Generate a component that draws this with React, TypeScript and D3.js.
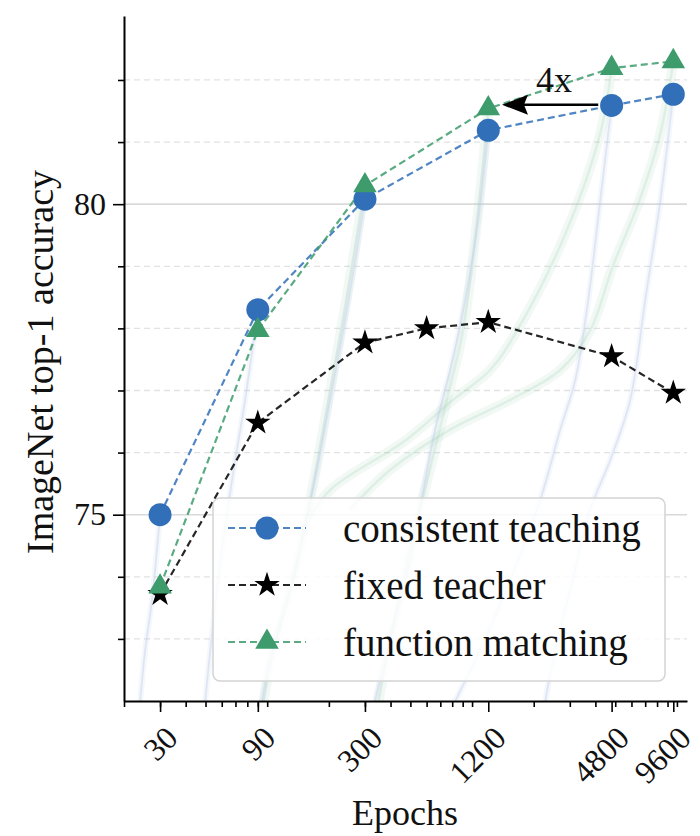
import * as d3 from "d3";
import React, { useEffect, useRef } from "react";

// final accuracy per training length
const epochs = [30, 90, 300, 1200, 4800, 9600];
const consistentTeaching = [75.0, 78.3, 80.08, 81.19, 81.59, 81.77];
const functionMatching = [73.84, 77.97, 80.3, 81.54, 82.19, 82.3];
const fixedEpochs = [30, 90, 300, 600, 1200, 4800, 9600];
const fixedTeacher = [73.72, 76.48, 77.77, 78.0, 78.1, 77.55, 76.96];

const xTicks = [30, 90, 300, 1200, 4800, 9600];
const yMajor = [75, 80];
const yMinor = [73, 74, 76, 77, 78, 79, 81, 82];

// faint training curves (epoch, accuracy)
const blueRuns: [number, number][][] = [
  [[30, 75.0], [27.4, 73.63], [25.4, 72.83], [24, 72.0]],
  [[90, 78.3], [78, 76.85], [67.4, 75.56], [57.6, 73.95], [49.8, 72.0]],
  [[300, 80.08], [269, 79.1], [235, 77.97], [203, 76.85], [171, 75.56], [137, 74.12], [103, 72.67], [94.4, 72.0]],
  [[1200, 81.19], [1072, 79.74], [926, 78.46], [782, 77.33], [676, 76.53], [591, 75.56], [499, 74.28], [398, 72.99], [336, 72.0]],
  [[4800, 81.59], [4224, 80.06], [3692, 78.46], [3190, 77.17], [2694, 76.37], [2152, 75.24], [1536, 73.95], [1097, 72.83], [828, 72.0]],
  [[9600, 81.77], [8299, 80.06], [7006, 78.46], [5917, 76.85], [4728, 75.88], [3773, 75.08], [3015, 73.79], [2546, 72.83], [2277, 72.0]],
];
const greenRuns: [number, number][][] = [
  [[300, 80.3], [265, 79.2], [230, 78.0], [198, 76.8], [168, 75.5], [135, 74.0], [104, 72.6], [96, 72.0]],
  [[1200, 81.54], [1072, 79.9], [900, 77.93], [760, 76.9], [620, 75.7], [500, 74.5], [410, 73.2], [350, 72.0]],
  [[4800, 82.2], [4224, 81.14], [2860, 79.53], [1635, 77.93], [1225, 77.33], [808, 76.85], [475, 76.2], [203, 75.4], [161, 74.92]],
  [[9600, 82.3], [8299, 81.14], [6560, 80.06], [4863, 79.0], [3773, 77.97], [2694, 77.33], [1536, 76.85], [782, 76.37], [398, 75.72], [253, 75.08]],
];

const BLUE = "#3170b8";
const GREEN = "#3d9b6c";
const FONT = "Liberation Serif, Times New Roman, serif";

function drawChart(node: SVGSVGElement) {
  const svg = d3.select(node);
  svg.selectAll("*").remove();

  const x = d3.scaleLog().domain([20, 11200]).range([124, 687]);
  const y = d3.scaleLinear().domain([72, 83.03]).range([701, 16]);
  const [x0, x1] = x.range();

  svg.append("defs").append("clipPath").attr("id", "plot")
    .append("rect").attr("x", x0).attr("y", 16).attr("width", x1 - x0).attr("height", 685);

  // grid
  svg.append("g").selectAll("line").data(yMinor).join("line")
    .attr("x1", x0).attr("x2", x1).attr("y1", d => y(d)).attr("y2", d => y(d))
    .attr("stroke", "#e2e2e2").attr("stroke-width", 1.3).attr("stroke-dasharray", "6,4");
  svg.append("g").selectAll("line").data(yMajor).join("line")
    .attr("x1", x0).attr("x2", x1).attr("y1", d => y(d)).attr("y2", d => y(d))
    .attr("stroke", "#dadada").attr("stroke-width", 1.6);

  const line = d3.line<[number, number]>().x(d => x(d[0])).y(d => y(d[1])).curve(d3.curveCatmullRom);

  const bg = svg.append("g").attr("clip-path", "url(#plot)");
  for (const run of greenRuns) {
    bg.append("path").attr("d", line(run)).attr("fill", "none")
      .attr("stroke", "#a6d4ba").attr("stroke-width", 10).attr("stroke-opacity", 0.14);
    bg.append("path").attr("d", line(run)).attr("fill", "none")
      .attr("stroke", "#94cbab").attr("stroke-width", 2.5).attr("stroke-opacity", 0.22);
  }
  for (const run of blueRuns) {
    bg.append("path").attr("d", line(run)).attr("fill", "none")
      .attr("stroke", "#bccfe8").attr("stroke-width", 6).attr("stroke-opacity", 0.16);
    bg.append("path").attr("d", line(run)).attr("fill", "none")
      .attr("stroke", "#c0cbe8").attr("stroke-width", 1.8).attr("stroke-opacity", 0.4);
  }

  // axes
  const yAxis = svg.append("g").attr("transform", `translate(${x0},0)`)
    .call(d3.axisLeft(y).tickValues(yMajor).tickSize(11).tickPadding(7).tickSizeOuter(0).tickFormat(d3.format("d")));
  svg.append("g").attr("transform", `translate(${x0},0)`)
    .call(d3.axisLeft(y).tickValues(yMinor).tickSize(6).tickFormat(() => "").tickSizeOuter(0))
    .call(g => g.select(".domain").remove());
  yAxis.selectAll("text").attr("font-family", FONT).attr("font-size", 32).attr("fill", "#111");

  const minorX: number[] = [];
  for (const p of [10, 100, 1000]) for (let k = 2; k <= 10; k++) minorX.push(k * p);
  svg.append("g").attr("transform", "translate(0,701)")
    .call(d3.axisBottom(x).tickValues(minorX.filter(v => v <= 11200)).tickSize(6).tickFormat(() => "").tickSizeOuter(0))
    .call(g => g.select(".domain").remove());
  const xAxis = svg.append("g").attr("transform", "translate(0,701)")
    .call(d3.axisBottom(x).tickValues(xTicks).tickSize(11).tickSizeOuter(0).tickFormat(d3.format("d")));
  xAxis.selectAll("text")
    .attr("y", null).attr("dy", "0.35em")
    .attr("transform", "translate(11,31) rotate(-45)")
    .attr("text-anchor", "end")
    .attr("font-family", FONT).attr("font-size", 32).attr("fill", "#111");

  for (const ax of [yAxis, xAxis]) {
    ax.select(".domain").attr("stroke", "#000").attr("stroke-width", 2);
  }
  svg.selectAll(".tick line").attr("stroke", "#000").attr("stroke-width", 1.6);

  // series
  const series = [
    { xs: epochs, ys: consistentTeaching, color: BLUE, marker: "circle" },
    { xs: fixedEpochs, ys: fixedTeacher, color: "#000", marker: "star" },
    { xs: epochs, ys: functionMatching, color: GREEN, marker: "triangle" },
  ];
  const symbolPath = (m: string) =>
    m === "star" ? d3.symbol(d3.symbolStar, 200)() : d3.symbol(d3.symbolTriangle, 240)();

  const drawMarker = (g: any, m: string, color: string, cx: number, cy: number) => {
    if (m === "circle") g.append("circle").attr("cx", cx).attr("cy", cy).attr("r", 11.5).attr("fill", color);
    else g.append("path").attr("d", symbolPath(m)).attr("transform", `translate(${cx},${cy})`).attr("fill", color);
  };

  const linesG = svg.append("g");
  const markG = svg.append("g");
  for (const s of series) {
    const pts = s.xs.map((e, i) => [e, s.ys[i]] as [number, number]);
    linesG.append("path")
      .attr("d", d3.line<[number, number]>().x(d => x(d[0])).y(d => y(d[1]))(pts))
      .attr("fill", "none").attr("stroke", s.color).attr("stroke-width", 2.2)
      .attr("stroke-dasharray", "7,4").attr("stroke-opacity", 0.85);
    for (const p of pts) drawMarker(markG, s.marker, s.color, x(p[0]), y(p[1]));
  }

  // 4x arrow
  const ay = y(81.6);
  const tip = x(1400);
  svg.append("line").attr("x1", x(4130)).attr("x2", tip + 20).attr("y1", ay).attr("y2", ay)
    .attr("stroke", "#000").attr("stroke-width", 2.6);
  svg.append("path").attr("d", `M${tip},${ay}L${tip + 26},${ay - 10}L${tip + 22},${ay}L${tip + 26},${ay + 10}Z`)
    .attr("fill", "#000");
  svg.append("text").attr("x", (x(4130) + tip) / 2 + 4).attr("y", 92)
    .attr("text-anchor", "middle").attr("font-family", FONT).attr("font-size", 36).attr("fill", "#111").text("4x");

  // labels
  svg.append("text").attr("transform", "translate(53,362) rotate(-90)")
    .attr("text-anchor", "middle").attr("font-family", FONT).attr("font-size", 38).attr("fill", "#111")
    .text("ImageNet top-1 accuracy");
  svg.append("text").attr("x", 405).attr("y", 825)
    .attr("text-anchor", "middle").attr("font-family", FONT).attr("font-size", 36).attr("fill", "#111")
    .text("Epochs");

  // legend
  const lg = svg.append("g");
  lg.append("rect").attr("x", 213).attr("y", 498).attr("width", 452).attr("height", 183).attr("rx", 7)
    .attr("fill", "#fff").attr("fill-opacity", 0.82).attr("stroke", "#d4d4d4").attr("stroke-width", 1.5);
  const labels = ["consistent teaching", "fixed teacher", "function matching"];
  series.forEach((s, i) => {
    const ry = 528 + i * 57;
    lg.append("line").attr("x1", 228).attr("x2", 306).attr("y1", ry).attr("y2", ry)
      .attr("stroke", s.color).attr("stroke-width", 2.2).attr("stroke-dasharray", "7,4").attr("stroke-opacity", 0.85);
    drawMarker(lg, s.marker, s.color, 267, ry);
    lg.append("text").attr("x", 343).attr("y", ry).attr("dy", "0.35em")
      .attr("font-family", FONT).attr("font-size", 39).attr("fill", "#111").text(labels[i]);
  });
}

export default function App() {
  const ref = useRef<SVGSVGElement>(null);
  useEffect(() => {
    if (ref.current) drawChart(ref.current);
  }, []);
  return (
    <svg ref={ref} width={700} height={836}
      style={{ position: "absolute", left: 0, top: 0, background: "#fff" }} />
  );
}
